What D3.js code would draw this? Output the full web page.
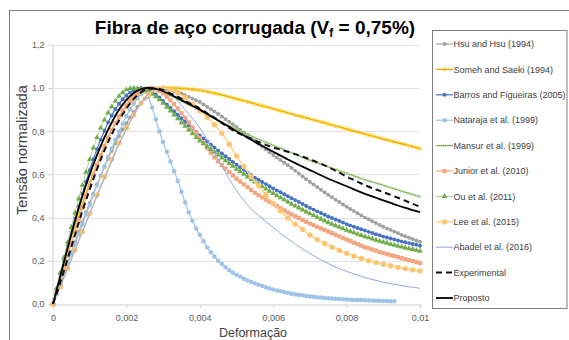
<!DOCTYPE html>
<html>
<head>
<meta charset="utf-8">
<script src="https://cdn.jsdelivr.net/npm/d3@7"></script>
<style>
  html, body { margin: 0; padding: 0; background: #fff; }
  svg { display: block; font-family: "Liberation Sans", Arial, sans-serif; }
</style>
</head>
<body>
<svg id="chart" width="569" height="340"></svg>
<script>
// ---------- DATA (strain in per-mille units: 1 = 0,001) ----------
const strainFine = [0,0.1,0.2,0.3,0.4,0.5,0.6,0.7,0.8,0.9,1,1.1,1.2,1.3,1.4,1.5,1.6,1.7,1.8,1.9,2,2.1,2.2,2.3,2.4,2.5,2.6,2.7,2.8,2.9,3,3.1,3.2,3.3,3.4,3.5,3.6,3.7,3.8,3.9,4,4.1,4.2,4.3,4.4,4.5,4.6,4.7,4.8,4.9,5,5.1,5.2,5.3,5.4,5.5,5.6,5.7,5.8,5.9,6,6.1,6.2,6.3,6.4,6.5,6.6,6.7,6.8,6.9,7,7.1,7.2,7.3,7.4,7.5,7.6,7.7,7.8,7.9,8,8.1,8.2,8.3,8.4,8.5,8.6,8.7,8.8,8.9,9,9.1,9.2,9.3,9.4,9.5,9.6,9.7,9.8,9.9,10];
const strainCoarse = [0,0.2,0.4,0.6,0.8,1,1.2,1.4,1.6,1.8,2,2.2,2.4,2.6,2.8,3,3.2,3.4,3.6,3.8,4,4.2,4.4,4.6,4.8,5,5.2,5.4,5.6,5.8,6,6.2,6.4,6.6,6.8,7,7.2,7.4,7.6,7.8,8,8.2,8.4,8.6,8.8,9,9.2,9.4,9.6,9.8,10];

const hsu = [0,0.048,0.096,0.144,0.192,0.24,0.287,0.333,0.379,0.424,
0.468,0.511,0.553,0.594,0.634,0.672,0.709,0.744,0.777,0.808,
0.837,0.864,0.889,0.912,0.932,0.95,0.966,0.979,0.989,0.996,
0.999,0.995,0.99,0.985,0.98,0.975,0.967,0.959,0.951,0.943,
0.935,0.924,0.913,0.902,0.891,0.88,0.868,0.856,0.844,0.832,
0.82,0.807,0.794,0.781,0.768,0.755,0.742,0.729,0.716,0.703,
0.69,0.678,0.666,0.654,0.642,0.63,0.617,0.604,0.591,0.578,
0.565,0.553,0.541,0.529,0.517,0.505,0.494,0.483,0.472,0.461,
0.45,0.44,0.43,0.42,0.41,0.4,0.392,0.383,0.375,0.366,
0.358,0.35,0.343,0.335,0.328,0.32,0.314,0.307,0.301,0.294,0.288];

const someh = [0,0.064,0.127,0.189,0.25,0.31,0.363,0.414,0.463,0.512,
0.56,0.605,0.648,0.69,0.732,0.772,0.806,0.836,0.863,0.888,
0.91,0.929,0.946,0.96,0.971,0.98,0.986,0.991,0.995,0.998,
0.999,1.0,1.0,1.0,0.999,0.998,0.997,0.995,0.994,0.992,
0.99,0.987,0.983,0.98,0.976,0.972,0.968,0.963,0.959,0.954,
0.95,0.945,0.941,0.936,0.932,0.927,0.922,0.918,0.913,0.909,
0.904,0.899,0.894,0.89,0.885,0.88,0.875,0.871,0.866,0.862,
0.857,0.852,0.848,0.843,0.839,0.834,0.829,0.824,0.82,0.815,
0.81,0.805,0.801,0.796,0.792,0.787,0.782,0.778,0.773,0.769,
0.764,0.76,0.755,0.751,0.746,0.742,0.738,0.733,0.729,0.724,0.72];

const barros = [0,0.068,0.136,0.203,0.27,0.335,0.395,0.453,0.51,0.566,
0.62,0.67,0.717,0.761,0.802,0.84,0.873,0.902,0.927,0.948,
0.965,0.979,0.989,0.996,1.0,0.997,0.99,0.981,0.97,0.956,
0.94,0.924,0.908,0.892,0.876,0.86,0.844,0.828,0.812,0.796,
0.78,0.766,0.752,0.738,0.724,0.71,0.697,0.684,0.671,0.658,
0.645,0.633,0.621,0.609,0.597,0.585,0.575,0.565,0.555,0.545,
0.535,0.526,0.517,0.508,0.499,0.49,0.481,0.472,0.463,0.454,
0.445,0.437,0.429,0.421,0.413,0.405,0.398,0.391,0.384,0.377,
0.37,0.364,0.358,0.352,0.346,0.34,0.334,0.329,0.323,0.318,
0.312,0.308,0.303,0.299,0.294,0.29,0.286,0.282,0.278,0.274,0.27];

const nataraja = [0,0.046,0.092,0.138,0.184,0.23,0.276,0.322,0.368,0.414,
0.46,0.505,0.55,0.594,0.637,0.68,0.72,0.76,0.798,0.835,
0.87,0.9,0.928,0.952,0.972,0.985,0.96,0.91,0.855,0.8,
0.75,0.705,0.66,0.615,0.57,0.52,0.47,0.425,0.385,0.35,
0.32,0.29,0.262,0.24,0.22,0.2,0.185,0.17,0.156,0.145,
0.135,0.126,0.117,0.109,0.102,0.095,0.089,0.083,0.077,0.072,
0.067,0.063,0.059,0.055,0.052,0.048,0.045,0.042,0.04,0.037,
0.035,0.033,0.031,0.03,0.028,0.027,0.025,0.024,0.023,0.022,
0.021,0.02,0.019,0.018,0.018,0.017,0.016,0.016,0.015,0.015,
0.014,0.014,0.013,0.013];

const mansur = [0,0.067,0.134,0.2,0.266,0.33,0.388,0.444,0.498,0.55,
0.6,0.646,0.69,0.732,0.772,0.81,0.842,0.871,0.897,0.92,
0.94,0.957,0.972,0.984,0.993,0.998,1.0,0.998,0.994,0.988,
0.98,0.972,0.964,0.956,0.948,0.94,0.931,0.922,0.913,0.904,
0.895,0.886,0.877,0.868,0.859,0.85,0.842,0.834,0.826,0.818,
0.81,0.802,0.794,0.786,0.778,0.77,0.763,0.756,0.749,0.742,
0.735,0.728,0.721,0.714,0.707,0.7,0.693,0.686,0.679,0.672,
0.665,0.659,0.653,0.647,0.641,0.635,0.629,0.623,0.617,0.611,
0.605,0.599,0.593,0.587,0.581,0.575,0.57,0.565,0.56,0.555,
0.55,0.544,0.539,0.533,0.528,0.522,0.517,0.512,0.507,0.502,0.497];

const junior = [0,0.057,0.113,0.169,0.225,0.28,0.336,0.392,0.446,0.499,
0.55,0.597,0.643,0.687,0.729,0.77,0.805,0.838,0.868,0.895,
0.92,0.942,0.961,0.975,0.986,0.994,0.999,1.0,0.996,0.987,
0.975,0.96,0.943,0.925,0.905,0.884,0.862,0.84,0.817,0.793,
0.769,0.745,0.722,0.7,0.679,0.66,0.643,0.627,0.611,0.595,
0.58,0.567,0.554,0.541,0.528,0.515,0.504,0.494,0.483,0.473,
0.462,0.453,0.443,0.434,0.424,0.415,0.406,0.398,0.389,0.381,
0.372,0.365,0.357,0.35,0.342,0.335,0.328,0.32,0.313,0.305,
0.298,0.291,0.284,0.277,0.27,0.263,0.258,0.252,0.247,0.241,
0.236,0.231,0.226,0.222,0.217,0.212,0.208,0.203,0.199,0.194,0.19];

const ou = [0,0.073,0.145,0.216,0.286,0.355,0.422,0.487,0.55,0.611,
0.67,0.723,0.771,0.815,0.852,0.885,0.914,0.94,0.962,0.979,
0.992,0.998,1.0,0.998,0.995,0.99,0.982,0.972,0.96,0.946,
0.93,0.912,0.894,0.876,0.858,0.84,0.823,0.806,0.789,0.772,
0.755,0.742,0.729,0.716,0.703,0.69,0.677,0.664,0.651,0.638,
0.625,0.613,0.601,0.589,0.577,0.565,0.554,0.544,0.533,0.523,
0.512,0.502,0.492,0.483,0.473,0.463,0.454,0.445,0.436,0.427,
0.418,0.41,0.402,0.393,0.385,0.377,0.37,0.363,0.356,0.349,
0.342,0.336,0.33,0.324,0.318,0.312,0.307,0.302,0.296,0.291,
0.286,0.282,0.277,0.273,0.268,0.264,0.26,0.256,0.253,0.249,0.245];

const lee = [0,0.08,0.165,0.25,0.335,0.42,0.505,0.59,0.67,0.745,
0.815,0.875,0.93,0.97,0.993,1.0,0.993,0.978,0.955,0.925,
0.895,0.865,0.83,0.79,0.74,0.685,0.636,0.59,0.547,0.506,
0.466,0.43,0.398,0.37,0.345,0.32,0.298,0.28,0.263,0.248,
0.234,0.222,0.211,0.201,0.192,0.184,0.177,0.17,0.164,0.158,0.153];

const abadel = [0,0.082,0.166,0.25,0.334,0.418,0.5,0.58,0.66,0.74,
0.81,0.875,0.93,0.975,0.997,0.995,0.975,0.94,0.9,0.86,
0.815,0.76,0.7,0.64,0.58,0.525,0.48,0.44,0.41,0.382,
0.355,0.328,0.302,0.278,0.255,0.234,0.214,0.196,0.179,0.164,
0.151,0.139,0.128,0.118,0.109,0.101,0.094,0.088,0.082,0.077,0.073];

const experimental = [0,0.1,0.21,0.32,0.43,0.53,0.625,0.71,0.785,0.85,
0.905,0.95,0.98,0.997,0.998,0.99,0.975,0.96,0.94,0.922,
0.905,0.883,0.862,0.838,0.815,0.795,0.78,0.764,0.75,0.737,
0.725,0.715,0.705,0.694,0.682,0.67,0.656,0.642,0.626,0.608,
0.59,0.574,0.558,0.543,0.53,0.518,0.505,0.492,0.478,0.464,0.45];

const proposto = [0,0.13,0.26,0.385,0.5,0.6,0.69,0.77,0.84,0.9,
0.945,0.977,0.995,1.0,0.996,0.985,0.97,0.953,0.935,0.918,
0.9,0.88,0.86,0.84,0.82,0.8,0.78,0.76,0.741,0.723,
0.705,0.687,0.669,0.652,0.636,0.62,0.604,0.588,0.573,0.559,
0.545,0.531,0.517,0.504,0.492,0.48,0.468,0.456,0.445,0.435,0.425];

const seriesNames = ["Hsu and Hsu (1994)","Someh and Saeki (1994)","Barros and Figueiras (2005)","Nataraja et al. (1999)","Mansur et al. (1999)","Junior et al. (2010)","Ou et al. (2011)","Lee et al. (2015)","Abadel et al. (2016)","Experimental","Proposto"];
const xTickValues = [0,2,4,6,8,10];
const xTickLabels = ["0","0,002","0,004","0,006","0,008","0,01"];
const yTickValues = [0,0.2,0.4,0.6,0.8,1.0,1.2];
const yTickLabels = ["0,0","0,2","0,4","0,6","0,8","1,0","1,2"];

// ---------- STYLES ----------
const styles = [
  {x: strainFine,   y: hsu,         line:"#a5a5a5", lw:1.2, marker:"circle",  mfill:"#a0a0a0", msize:12},
  {x: strainFine,   y: someh,       line:"#e8aa00", lw:1.3, marker:"star",    mfill:"#ffc000", msize:1.6},
  {x: strainFine,   y: barros,      line:"#4472c4", lw:1.2, marker:"circle",  mfill:"#4472c4", msize:12},
  {x: strainFine,   y: nataraja,    line:"#9dc3e6", lw:1.2, marker:"circle",  mfill:"#9dc3e6", msize:16},
  {x: strainFine,   y: mansur,      line:"#70ad47", lw:1.2, marker:"cross",   mfill:"#a9d18e", msize:1.4},
  {x: strainFine,   y: junior,      line:"#f4a582", lw:1.2, marker:"square",  mfill:"#f4a582", msize:18},
  {x: strainFine,   y: ou,          line:"#a9d18e", lw:1.0, marker:"triangle",mfill:"#70ad47", msize:14},
  {x: strainCoarse, y: lee,         line:"#ffd28a", lw:1.5, marker:"circle",  mfill:"#ffc46e", msize:22},
  {x: strainCoarse, y: abadel,      line:"#8faadc", lw:1.0, marker:null},
  {x: strainCoarse, y: experimental,line:"#111111", lw:2.0, marker:null, dash:"6,4"},
  {x: strainCoarse, y: proposto,    line:"#000000", lw:1.8, marker:null}
];

const svg = d3.select("#chart");
const W = 569, H = 340;
const plot = {left:53, right:420, top:44.8, bottom:304};

const x = d3.scaleLinear().domain([0,10]).range([plot.left, plot.right]);
const y = d3.scaleLinear().domain([0,1.2]).range([plot.bottom, plot.top]);

// outer frame
svg.append("rect").attr("x",9.5).attr("y",10.5).attr("width",W).attr("height",H)
  .attr("fill","none").attr("stroke","#7f7f7f").attr("stroke-width",1);

// gridlines
svg.append("g").selectAll("line").data(yTickValues.filter(v=>v>0)).join("line")
  .attr("x1",plot.left).attr("x2",plot.right)
  .attr("y1",d=>Math.round(y(d))+0.5).attr("y2",d=>Math.round(y(d))+0.5)
  .attr("stroke","#e4e4e4").attr("stroke-width",1);

// axes
const xAxis = d3.axisBottom(x).tickValues(xTickValues).tickFormat((d,i)=>xTickLabels[i]).tickSize(4).tickSizeOuter(0);
const yAxis = d3.axisLeft(y).tickValues(yTickValues).tickFormat((d,i)=>yTickLabels[i]).tickSize(4).tickSizeOuter(0);
const gx = svg.append("g").attr("transform",`translate(0,${plot.bottom+0.5})`).call(xAxis);
const gy = svg.append("g").attr("transform",`translate(${plot.left-0.5},0)`).call(yAxis);
[gx,gy].forEach(g=>{
  g.attr("font-family",null);
  g.select(".domain").attr("stroke","#d0d0d0");
  g.selectAll(".tick line").attr("stroke","#d0d0d0");
  g.selectAll(".tick text").attr("fill","#595959").style("font-size","9px")
    .style("font-family","'Liberation Sans', Arial, sans-serif");
});
gx.selectAll(".tick text").attr("dy","1.1em");
gy.selectAll(".tick text").attr("x",-8);

// series
const line = d3.line().curve(d3.curveMonotoneX);
function markerPath(type, size){
  if(type==="circle") return d3.symbol(d3.symbolCircle, size)();
  if(type==="square") return d3.symbol(d3.symbolSquare, size)();
  if(type==="triangle") return d3.symbol(d3.symbolTriangle, size)();
  return null;
}
function drawMarker(g, type, size, fill, px, py){
  if(type==="star" || type==="cross"){
    const s = size;
    let p = `M${px-s},${py-s}L${px+s},${py+s}M${px-s},${py+s}L${px+s},${py-s}`;
    if(type==="star") p += `M${px},${py-s*1.3}L${px},${py+s*1.3}`;
    g.append("path").attr("d",p).attr("stroke",fill).attr("stroke-width",0.8).attr("fill","none");
  } else {
    g.append("path").attr("d",markerPath(type,size)).attr("transform",`translate(${px},${py})`).attr("fill",fill);
  }
}

const plotG = svg.append("g");
styles.forEach(s=>{
  const pts = s.y.map((v,i)=>[x(s.x[i]), y(v)]);
  const g = plotG.append("g");
  g.append("path").attr("d",line(pts)).attr("fill","none")
    .attr("stroke",s.line).attr("stroke-width",s.lw)
    .attr("stroke-dasharray",s.dash||null);
  if(s.marker){
    pts.forEach(p=>drawMarker(g, s.marker, s.msize, s.mfill, p[0], p[1]));
  }
});

// title
const title = svg.append("text").attr("x",255).attr("y",34).attr("text-anchor","middle")
  .style("font-size","19px").style("font-weight","bold").attr("fill","#000");
title.append("tspan").text("Fibra de aço corrugada (V");
title.append("tspan").text("f").style("font-size","12px").attr("dy",3);
title.append("tspan").text(" = 0,75%)").attr("dy",-3);

// axis titles
svg.append("text").attr("x",253).attr("y",337).attr("text-anchor","middle")
  .style("font-size","12.5px").attr("fill","#404040").text("Deformação");
svg.append("text").attr("transform","translate(27,150) rotate(-90)").attr("text-anchor","middle")
  .style("font-size","14.5px").attr("fill","#404040").text("Tensão normalizada");

// legend
const leg = svg.append("g");
leg.append("rect").attr("x",432.5).attr("y",30.5).attr("width",134.5).attr("height",278)
  .attr("fill","#fff").attr("stroke","#7f7f7f").attr("stroke-width",1);
const legY0 = 44, legStep = 25.4;
seriesNames.forEach((name,i)=>{
  const s = styles[i];
  const cy = legY0 + i*legStep;
  const g = leg.append("g");
  g.append("line").attr("x1",436).attr("x2",453).attr("y1",cy).attr("y2",cy)
    .attr("stroke",s.line).attr("stroke-width",s.lw).attr("stroke-dasharray",s.dash||null);
  if(s.marker) drawMarker(g, s.marker, s.msize, s.mfill, 444.5, cy);
  g.append("text").attr("x",453.5).attr("y",cy+3.2).style("font-size","9px")
    .attr("fill","#404040").text(name);
});
</script>
</body>
</html>
